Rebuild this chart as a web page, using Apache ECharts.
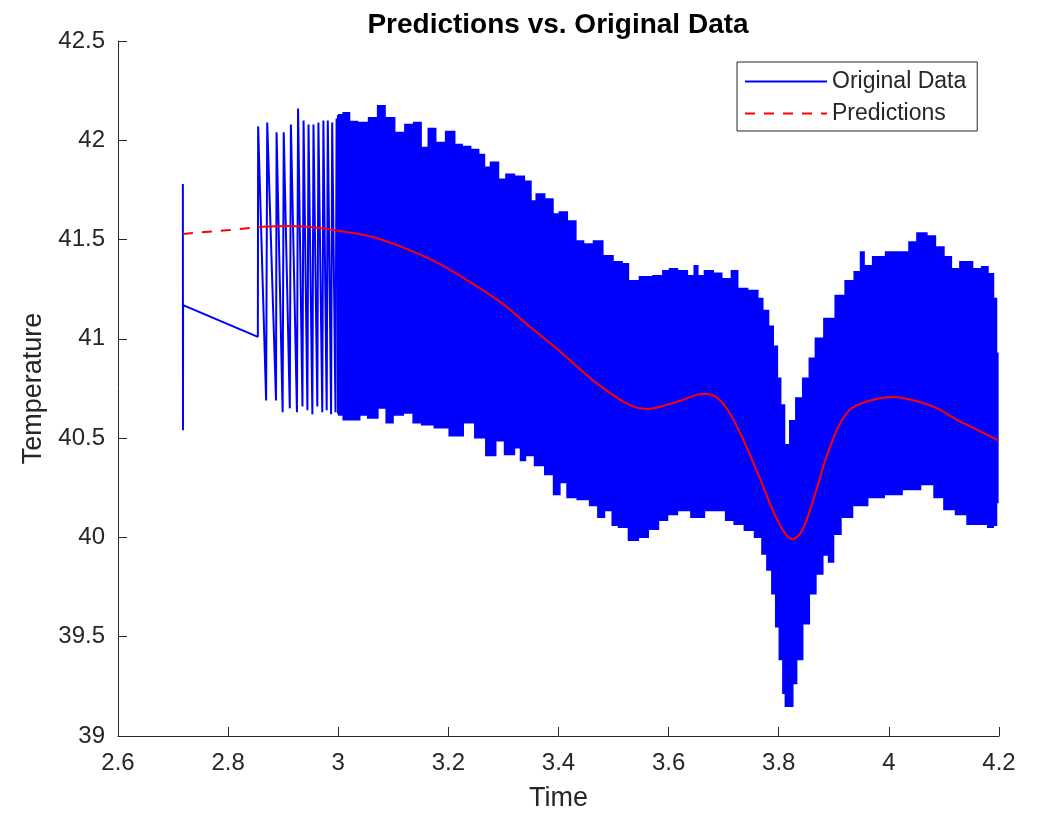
<!DOCTYPE html>
<html>
<head>
<meta charset="utf-8">
<script src="https://cdn.jsdelivr.net/npm/echarts@6/dist/echarts.min.js"></script>
<style>
  html, body { margin: 0; padding: 0; background: #ffffff; }
  #chart { width: 1037px; height: 817px; }
</style>
</head>
<body>
<div id="chart"></div>
<script>
// ---- Original data: sparse beginning (individual samples / spikes) ----
const origX = [2.7178, 2.718, 2.7182, 2.854, 2.8545, 2.869, 2.871, 2.887, 2.888, 2.899, 2.901, 2.912, 2.914, 2.925, 2.927, 2.935, 2.937, 2.944, 2.946, 2.953, 2.955, 2.962, 2.964, 2.971, 2.973, 2.979, 2.981, 2.987, 2.989, 2.995, 2.997, 3.003, 3.005, 3.011, 3.013, 3.018];
const origY = [41.78, 40.54, 41.17, 41.01, 42.07, 40.69, 42.09, 40.69, 42.04, 40.63, 42.04, 40.65, 42.08, 40.63, 42.16, 40.66, 42.10, 40.64, 42.08, 40.62, 42.08, 40.66, 42.09, 40.63, 42.10, 40.64, 42.10, 40.62, 42.09, 40.63, 42.11, 40.62, 42.12, 40.63, 42.13, 40.62];

// ---- Original data: dense oscillation, upper envelope ----
const hiX = [2.999, 3.003, 3.015, 3.026, 3.044, 3.066, 3.077, 3.093, 3.112, 3.130, 3.144, 3.157, 3.170, 3.184, 3.206, 3.217, 3.233, 3.248, 3.262, 3.269, 3.284, 3.298, 3.311, 3.329, 3.347, 3.353, 3.366, 3.384, 3.396, 3.407, 3.425, 3.438, 3.453, 3.474, 3.487, 3.511, 3.520, 3.534, 3.560, 3.583, 3.596, 3.607, 3.625, 3.643, 3.650, 3.656, 3.674, 3.688, 3.705, 3.723, 3.728, 3.759, 3.765, 3.777, 3.786, 3.794, 3.801, 3.806, 3.815, 3.825, 3.837, 3.850, 3.861, 3.872, 3.892, 3.913, 3.928, 3.946, 3.951, 3.959, 3.982, 4.006, 4.031, 4.042, 4.060, 4.078, 4.091, 4.109, 4.118, 4.140, 4.164, 4.173, 4.187, 4.193, 4.198];
const hiY = [42.124, 42.129, 42.139, 42.094, 42.089, 42.114, 42.174, 42.114, 42.039, 42.079, 42.089, 41.964, 42.059, 41.989, 42.044, 41.979, 41.969, 41.954, 41.929, 41.864, 41.889, 41.804, 41.829, 41.819, 41.794, 41.694, 41.729, 41.704, 41.629, 41.639, 41.594, 41.493, 41.478, 41.493, 41.418, 41.388, 41.378, 41.293, 41.313, 41.318, 41.343, 41.353, 41.343, 41.318, 41.368, 41.318, 41.343, 41.330, 41.303, 41.343, 41.253, 41.243, 41.203, 41.143, 41.063, 40.963, 40.802, 40.667, 40.467, 40.587, 40.702, 40.802, 40.902, 41.003, 41.103, 41.218, 41.293, 41.338, 41.438, 41.368, 41.413, 41.438, 41.438, 41.488, 41.533, 41.518, 41.463, 41.413, 41.353, 41.388, 41.353, 41.363, 41.328, 41.203, 40.928];

// ---- Original data: dense oscillation, lower envelope ----
const loX = [2.999, 3.003, 3.015, 3.034, 3.044, 3.063, 3.081, 3.093, 3.106, 3.130, 3.142, 3.161, 3.188, 3.215, 3.239, 3.257, 3.279, 3.293, 3.311, 3.329, 3.333, 3.347, 3.366, 3.384, 3.398, 3.407, 3.424, 3.444, 3.469, 3.474, 3.493, 3.502, 3.516, 3.538, 3.552, 3.574, 3.589, 3.607, 3.625, 3.656, 3.674, 3.697, 3.710, 3.728, 3.747, 3.765, 3.774, 3.783, 3.792, 3.797, 3.805, 3.810, 3.814, 3.823, 3.828, 3.837, 3.850, 3.861, 3.874, 3.886, 3.895, 3.904, 3.922, 3.946, 3.977, 4.006, 4.042, 4.073, 4.091, 4.109, 4.133, 4.151, 4.173, 4.186, 4.193, 4.198];
const loY = [40.627, 40.617, 40.592, 40.592, 40.617, 40.602, 40.652, 40.577, 40.617, 40.627, 40.577, 40.567, 40.552, 40.512, 40.577, 40.502, 40.412, 40.487, 40.417, 40.452, 40.387, 40.412, 40.362, 40.317, 40.216, 40.276, 40.201, 40.191, 40.161, 40.101, 40.136, 40.061, 40.051, 39.986, 40.001, 40.041, 40.086, 40.116, 40.136, 40.101, 40.136, 40.136, 40.086, 40.066, 40.036, 40.001, 39.916, 39.836, 39.716, 39.550, 39.385, 39.215, 39.150, 39.150, 39.265, 39.385, 39.565, 39.716, 39.816, 39.911, 39.876, 40.016, 40.101, 40.161, 40.201, 40.216, 40.241, 40.266, 40.201, 40.141, 40.116, 40.066, 40.066, 40.051, 40.061, 40.176];

// ---- Predictions ----
const predX = [2.718, 2.758, 2.803, 2.854, 2.912, 2.966, 3.003, 3.063, 3.124, 3.184, 3.244, 3.298, 3.347, 3.396, 3.469, 3.529, 3.560, 3.583, 3.620, 3.661, 3.679, 3.705, 3.734, 3.765, 3.795, 3.814, 3.825, 3.843, 3.868, 3.886, 3.910, 3.933, 3.970, 4.006, 4.042, 4.086, 4.127, 4.164, 4.200];
const predY = [41.528, 41.538, 41.548, 41.563, 41.568, 41.558, 41.543, 41.513, 41.453, 41.378, 41.278, 41.178, 41.063, 40.953, 40.777, 40.667, 40.647, 40.657, 40.687, 40.722, 40.717, 40.652, 40.502, 40.302, 40.101, 40.011, 39.991, 40.036, 40.236, 40.402, 40.567, 40.652, 40.692, 40.707, 40.692, 40.652, 40.587, 40.537, 40.487];
const predDashEnd = 4; // predictions drawn dashed over the data gap (first points)

// ---- Axes ----
const xTicks = { min: 2.6, max: 4.2, step: 0.2 };
const yTicks = { min: 39, max: 42.5, step: 0.5 };

const zip = (xs, ys) => xs.map((x, i) => [x, ys[i]]);

const FONT = "'Liberation Sans', Arial, Helvetica, sans-serif";
const AX = '#262626';

// step-style outline of an envelope (each reading holds until halfway to its neighbours)
function stepEdge(xs, ys) {
  const out = [];
  for (let i = 0; i < xs.length; i++) {
    const xa = i === 0 ? xs[i] : (xs[i - 1] + xs[i]) / 2;
    const xb = i === xs.length - 1 ? xs[i] : (xs[i] + xs[i + 1]) / 2;
    out.push([xa, ys[i]], [xb, ys[i]]);
  }
  return out;
}

const chart = echarts.init(document.getElementById('chart'), null, { renderer: 'canvas' });

const axisCommon = {
  axisLine: { show: true, onZero: false, lineStyle: { color: AX, width: 1 } },
  axisTick: { show: true, inside: true, length: 9, lineStyle: { color: AX, width: 1 } },
  splitLine: { show: false },
  nameLocation: 'middle',
  nameTextStyle: { fontFamily: FONT, fontSize: 27, color: AX },
};

chart.setOption({
  animation: false,
  backgroundColor: '#ffffff',
  title: {
    text: 'Predictions vs. Original Data',
    left: 553,
    top: 6,
    textAlign: 'center',
    textStyle: { fontFamily: FONT, fontSize: 28, fontWeight: 'bold', color: '#000000' }
  },
  legend: {
    orient: 'vertical',
    left: 737,
    top: 62,
    padding: [8, 11, 6, 7],
    itemGap: 9,
    itemWidth: 82,
    itemHeight: 14,
    borderColor: AX,
    borderWidth: 1,
    backgroundColor: '#ffffff',
    itemStyle: { opacity: 0 },
    data: ['Original Data', 'Predictions'],
    textStyle: { fontFamily: FONT, fontSize: 23, color: AX }
  },
  grid: { left: 118, right: 38, top: 41, bottom: 77, containLabel: false },
  xAxis: Object.assign({}, axisCommon, {
    type: 'value',
    min: xTicks.min, max: xTicks.max, interval: xTicks.step,
    name: 'Time',
    nameGap: 49,
    axisLabel: { fontFamily: FONT, fontSize: 24, color: AX, margin: 15 }
  }),
  yAxis: Object.assign({}, axisCommon, {
    type: 'value',
    min: yTicks.min, max: yTicks.max, interval: yTicks.step,
    name: 'Temperature',
    nameGap: 70,
    axisLabel: { fontFamily: FONT, fontSize: 24, color: AX, margin: 13 }
  }),
  series: [
    {
      name: 'Original Data band',
      type: 'custom',
      data: [[3.5, 41]],
      silent: true,
      z: 2,
      renderItem: function (params, api) {
        const up = stepEdge(hiX, hiY);
        const dn = stepEdge(loX, loY).reverse();
        const pts = up.concat(dn).map(p => api.coord(p));
        return {
          type: 'polygon',
          shape: { points: pts },
          style: { fill: '#0000ff', stroke: '#0000ff', lineWidth: 1.5 }
        };
      }
    },
    {
      name: 'Original Data',
      type: 'line',
      data: zip(origX, origY),
      symbol: 'none',
      z: 2,
      lineStyle: { color: '#0000ff', width: 2 },
      itemStyle: { color: '#0000ff' }
    },
    {
      name: 'Predictions',
      type: 'line',
      data: zip(predX.slice(0, predDashEnd), predY.slice(0, predDashEnd)),
      symbol: 'none',
      z: 4,
      lineStyle: { color: '#ff0000', width: 2, type: [10, 9] },
      itemStyle: { color: '#ff0000' }
    },
    {
      name: 'Predictions (cont.)',
      type: 'line',
      data: zip(predX.slice(predDashEnd - 1), predY.slice(predDashEnd - 1)),
      symbol: 'none',
      smooth: 0.3,
      z: 4,
      lineStyle: { color: '#ff0000', width: 2 },
      itemStyle: { color: '#ff0000' }
    }
  ]
});
</script>
</body>
</html>
